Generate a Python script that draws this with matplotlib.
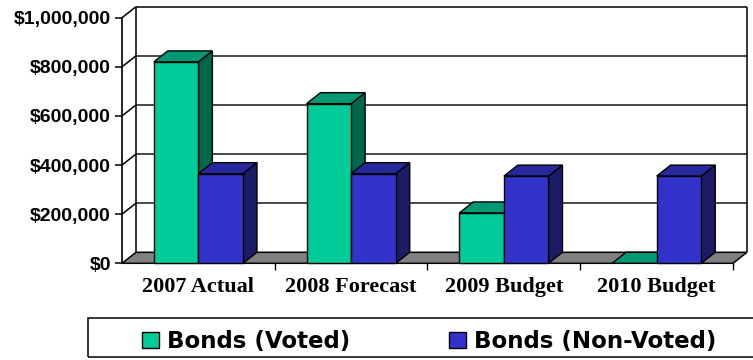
import matplotlib
matplotlib.use("Agg")
import matplotlib.pyplot as plt
from matplotlib.patches import Polygon, Rectangle, Patch

# ---- data ----
categories = ["2007 Actual", "2008 Forecast", "2009 Budget", "2010 Budget"]
voted = [820000, 650000, 205000, 0]
non_voted = [365000, 365000, 355000, 355000]
series_names = ["Bonds (Voted)", "Bonds (Non-Voted)"]
y_ticks = [0, 200000, 400000, 600000, 800000, 1000000]

# ---- styling ----
GREEN = ("#00CC99", "#009973", "#00664C")   # front, top, side
BLUE = ("#3333CC", "#28289E", "#1C1C66")
FLOOR = "#808080"
GRID = "#3a3a3a"

W, H = 753, 360
fig = plt.figure(figsize=(W / 100, H / 100), dpi=100)
fig.patch.set_facecolor("white")

ax = fig.add_axes([122 / W, (H - 263.3) / H, 611 / W, 245.6 / H])
ax.set_xlim(0, 4)
ax.set_ylim(0, 1_000_000)
ax.patch.set_visible(False)
for s in ("top", "right", "bottom"):
    ax.spines[s].set_visible(False)
ax.spines["left"].set_linewidth(1.2)

# 3-D depth offset expressed in data units
DX = 14 / (611 / 4)
DY = 11 / (245.6 / 1_000_000)
YMAX = 1_000_000

def line(xs, ys, **kw):
    ax.plot(xs, ys, color=kw.pop("color", "black"), lw=kw.pop("lw", 1.1),
            clip_on=False, solid_capstyle="butt", **kw)

# back wall: gridlines and frame
for v in y_ticks[1:-1]:
    line([DX, 4 + DX], [v + DY, v + DY], color=GRID, lw=1.3, zorder=1)
line([DX, 4 + DX], [YMAX + DY, YMAX + DY], zorder=1)
line([DX, DX], [DY, YMAX + DY], zorder=1)
line([4 + DX, 4 + DX], [DY, YMAX + DY], zorder=1)
# side wall lines
for v in y_ticks[1:]:
    line([0, DX], [v, v + DY], zorder=1)

# floor
ax.add_patch(Polygon([(0, 0), (4, 0), (4 + DX, DY), (DX, DY)], closed=True,
                     facecolor=FLOOR, edgecolor="black", lw=1.1,
                     clip_on=False, zorder=2))

BW = 0.292
z = 3

def bar3d(x0, v, cols):
    global z
    x1 = x0 + BW
    front, top, side = cols
    kw = dict(edgecolor="black", lw=1.0, clip_on=False, joinstyle="miter")
    ax.add_patch(Polygon([(x1, 0), (x1 + DX, DY), (x1 + DX, v + DY), (x1, v)],
                         closed=True, facecolor=side, zorder=z, **kw))
    ax.add_patch(Polygon([(x0, v), (x1, v), (x1 + DX, v + DY), (x0 + DX, v + DY)],
                         closed=True, facecolor=top, zorder=z, **kw))
    if v > 0:
        ax.add_patch(Rectangle((x0, 0), BW, v, facecolor=front, zorder=z, **kw))
    z += 1

for i in range(len(categories)):
    c = i + 0.5
    bar3d(c - BW, voted[i], GREEN)
    bar3d(c, non_voted[i], BLUE)

# y axis
ax.set_yticks(y_ticks)
ax.set_yticklabels([f"${v:,.0f}" for v in y_ticks],
                   fontfamily="Liberation Sans", fontweight="bold", fontsize=14)
ax.tick_params(axis="y", length=5, width=1.1, pad=3, direction="out")

# x axis: boundary ticks, category labels in between
ax.set_xticks([1, 2, 3, 4])
ax.set_xticklabels([])
ax.tick_params(axis="x", which="major", length=5, width=1, direction="out")
ax.set_xticks([0.5, 1.5, 2.5, 3.5], minor=True)
ax.set_xticklabels(categories, minor=True, fontfamily="Liberation Serif",
                   fontweight="bold", fontsize=16)
ax.tick_params(axis="x", which="minor", length=0, pad=10)

# legend with its frame
fig.patches.append(Rectangle((88 / W, 3 / H), 680 / W, 39 / H,
                             transform=fig.transFigure, fill=False,
                             edgecolor="black", lw=1.1))
handles = [Patch(facecolor=GREEN[0], edgecolor="black", lw=1.0),
           Patch(facecolor=BLUE[0], edgecolor="black", lw=1.0)]
fig.legend(handles, series_names, loc="center left",
           bbox_to_anchor=(142 / W, (H - 341.5) / H), ncol=2, frameon=False,
           prop=dict(family="DejaVu Sans", weight="bold", size=16.5),
           handlelength=0.72, handleheight=0.75, handletextpad=0.35,
           columnspacing=4.35, borderpad=0, borderaxespad=0)

fig.savefig("out.png", dpi=100)
